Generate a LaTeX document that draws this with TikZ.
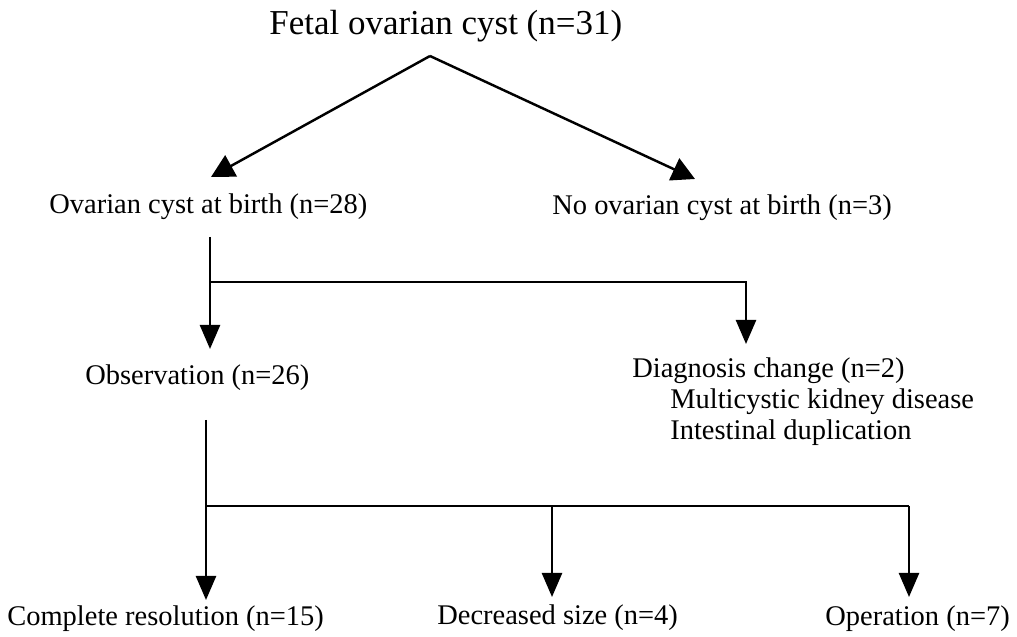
\documentclass[tikz,border=0pt]{standalone}
\usepackage{fontspec}
\setmainfont{Liberation Serif}
\usepackage{tikz}
\usetikzlibrary{arrows.meta,positioning,calc}
\definecolor{lineColor}{RGB}{0,0,0}

\begin{document}
\begin{tikzpicture}[
  title/.style={font=\fontsize{19.9}{22}\selectfont, text=lineColor, anchor=base west, inner sep=0pt},
  label/.style={font=\fontsize{16.2}{17.7}\selectfont, text=lineColor, anchor=base west, inner sep=0pt},
  branch/.style={line width=1.4pt, draw=lineColor},
  arrow/.style={-{Triangle[length=0.48cm, width=0.40cm]}, line width=1.4pt, draw=lineColor},
  bigarrow/.style={-{Triangle[length=0.46cm, width=0.48cm]}, line width=1.4pt, draw=lineColor}
]
\useasboundingbox (0,0) rectangle (20.34,-12.74);

% ------------------------------------------------------------------
% Top: fetal cyst split
% ------------------------------------------------------------------
\node[title] (fetal) at (5.38,-0.70) {Fetal ovarian cyst (n=31)};
\node[label] (birth) at (0.98,-4.28) {Ovarian cyst at birth (n=28)};
\node[label] (nocyst) at (11.04,-4.30) {No ovarian cyst at birth (n=3)};

\coordinate (apex) at (8.60,-1.12);
\coordinate (tipL) at (4.22,-3.54);
\coordinate (tipR) at (13.90,-3.58);
\draw[bigarrow] (apex) -- (tipL);
\draw[bigarrow] (apex) -- (tipR);

% ------------------------------------------------------------------
% Middle: observation vs diagnosis change
% ------------------------------------------------------------------
\node[label] (obs) at (1.70,-7.70) {Observation (n=26)};
\node[label, align=left] (diag) at (12.64,-8.80)
{Diagnosis change (n=2)\\\hspace*{0.76cm}Multicystic kidney disease\\\hspace*{0.76cm}Intestinal duplication};

\coordinate (top1) at (4.20,-4.74);
\coordinate (split1) at (4.20,-5.64);
\coordinate (right1) at (14.92,-5.64);
\draw[branch] (top1) -- (split1);
\draw[arrow] (split1) -- ($(split1)+(0,-1.34)$);
\draw[arrow] (split1) -- (right1) -- ($(right1)+(0,-1.24)$);

% ------------------------------------------------------------------
% Bottom: outcomes
% ------------------------------------------------------------------
\node[label] (cres) at (0.14,-12.52) {Complete resolution (n=15)};
\node[label] (dsize) at (8.74,-12.50) {Decreased size (n=4)};
\node[label] (oper) at (16.50,-12.52) {Operation (n=7)};

\coordinate (top2) at (4.12,-8.40);
\coordinate (split2) at (4.12,-10.12);
\coordinate (mid2) at (11.04,-10.12);
\coordinate (right2) at (18.18,-10.12);
\draw[branch] (top2) -- (split2) -- (right2);
\draw[arrow] (split2) -- ($(split2)+(0,-1.88)$);
\draw[arrow] (mid2) -- ($(mid2)+(0,-1.82)$);
\draw[arrow] (right2) -- ($(right2)+(0,-1.82)$);

\end{tikzpicture}
\end{document}
